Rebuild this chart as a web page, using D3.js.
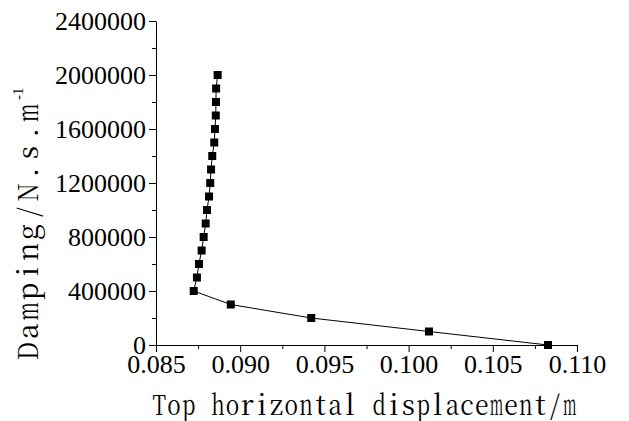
<!DOCTYPE html>
<html>
<head>
<meta charset="utf-8">
<script src="https://cdn.jsdelivr.net/npm/d3@7/dist/d3.min.js"></script>
<style>
  html, body { margin: 0; padding: 0; background: #fff; }
  svg { display: block; }
</style>
</head>
<body>
<svg id="chart" width="629" height="421"></svg>
<script>
// Damping coefficient (N·s/m) and resulting top horizontal displacement (m)
const damping = [0, 100000, 200000, 300000, 400000, 500000, 600000, 700000, 800000, 900000,
                 1000000, 1100000, 1200000, 1300000, 1400000, 1500000, 1600000, 1700000,
                 1800000, 1900000, 2000000];
const displacement = [0.10828, 0.10121, 0.09422, 0.08944, 0.08724, 0.08743, 0.08755, 0.08771,
                      0.08783, 0.08795, 0.08803, 0.08815, 0.08822, 0.08827, 0.08834, 0.08846,
                      0.08850, 0.08855, 0.08856, 0.08857, 0.08866];

const xTicks = [0.085, 0.090, 0.095, 0.100, 0.105, 0.110];
const xMinorTicks = [0.0875, 0.0925, 0.0975, 0.1025, 0.1075];
const yTicks = [0, 400000, 800000, 1200000, 1600000, 2000000, 2400000];
const yMinorTicks = [200000, 600000, 1000000, 1400000, 1800000, 2200000];

const xTitle = "Top horizontal displacement/m";
const yTitle = "Damping/N.s.m";
const yTitleSup = "-1";

const tickFont = '"Liberation Serif", "Times New Roman", serif';
const titleFont = '"Noto Serif CJK SC", "Liberation Serif", serif';

const svg = d3.select("#chart");

const x = d3.scaleLinear().domain([0.085, 0.110]).range([156, 577]);
const y = d3.scaleLinear().domain([0, 2400000]).range([345, 21]);

// minor ticks (no labels)
svg.append("g")
  .attr("transform", `translate(0,${y(0)})`)
  .call(d3.axisBottom(x).tickValues(xMinorTicks).tickSize(4).tickFormat(""))
  .call(g => g.select(".domain").remove());
svg.append("g")
  .attr("transform", `translate(${x(0.085)},0)`)
  .call(d3.axisLeft(y).tickValues(yMinorTicks).tickSize(4).tickFormat(""))
  .call(g => g.select(".domain").remove());

// major axes
svg.append("g")
  .attr("transform", `translate(0,${y(0)})`)
  .call(d3.axisBottom(x).tickValues(xTicks).tickSize(7).tickSizeOuter(0).tickPadding(3)
        .tickFormat(d3.format(".3f")));
svg.append("g")
  .attr("transform", `translate(${x(0.085)},0)`)
  .call(d3.axisLeft(y).tickValues(yTicks).tickSize(7).tickSizeOuter(0).tickPadding(3)
        .tickFormat(d3.format("d")));

svg.selectAll(".domain, .tick line").attr("stroke", "#000").attr("stroke-width", 1);
svg.selectAll(".tick text")
  .style("font-family", tickFont)
  .style("font-size", "26px")
  .style("fill", "#000");

// data line
const pts = damping.map((d, i) => ({ d, v: displacement[i] }));
svg.append("path")
  .datum(pts)
  .attr("fill", "none")
  .attr("stroke", "#000")
  .attr("stroke-width", 1)
  .attr("d", d3.line().x(p => x(p.v)).y(p => y(p.d)));

// square markers
const s = 8;
svg.append("g").selectAll("rect")
  .data(pts)
  .join("rect")
  .attr("x", p => x(p.v) - s / 2)
  .attr("y", p => y(p.d) - s / 2)
  .attr("width", s)
  .attr("height", s)
  .attr("fill", "#000");

// fixed-pitch title: every character sits centred in its own cell,
// glyphs wider than the cell are narrowed to fit
function pitchText(g, str, x0, pitch, size) {
  const cells = g.selectAll("text.ch")
    .data(Array.from(str))
    .join("text")
    .attr("class", "ch")
    .style("font-family", titleFont)
    .style("font-size", size + "px")
    .style("fill", "#000")
    .attr("text-anchor", "middle")
    .attr("x", (c, i) => x0 + pitch * (i + 0.5))
    .attr("y", 0)
    .text(c => c);
  cells.each(function () {
    const w = this.getComputedTextLength();
    const maxW = pitch * 0.92;
    if (w > maxW) {
      d3.select(this).attr("textLength", maxW).attr("lengthAdjust", "spacingAndGlyphs");
    }
  });
}

const xt = svg.append("g").attr("transform", "translate(0,415)");
pitchText(xt, xTitle, 152, 425 / xTitle.length, 28);

const yt = svg.append("g").attr("transform", "translate(38,361) rotate(-90)");
pitchText(yt, yTitle, 0, 258 / yTitle.length, 28);
yt.append("text")
  .style("font-family", tickFont)
  .style("font-size", "15px")
  .style("fill", "#000")
  .attr("x", 261)
  .attr("y", -15)
  .text(yTitleSup);
</script>
</body>
</html>
